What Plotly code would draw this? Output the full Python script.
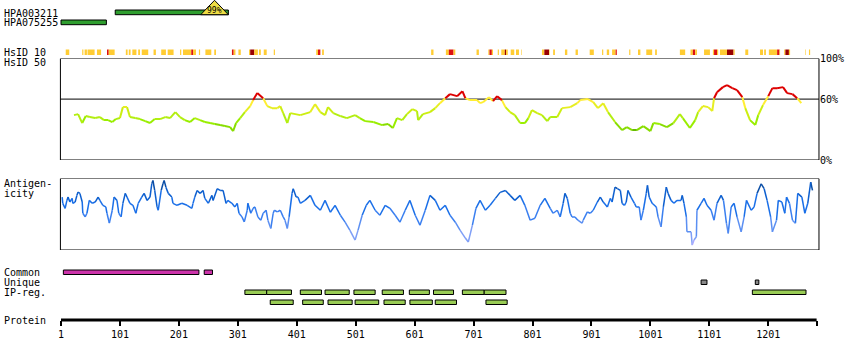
import plotly.graph_objects as go

# ---------------- data ----------------
PROTEIN_LENGTH = 1283

ANTIBODY_NAMES = ["HPA003211", "HPA075255"]
ANTIBODY_START = [93, 1]
ANTIBODY_END = [285, 78]
ANTIBODY_IDENTITY = ["99%", ""]

# HsID 10 segments: start, end, level (1 = gold, 2 = red, 3 = dark red)
HSID_START = [9, 37, 41, 46, 62, 79, 82, 111, 116, 122, 132, 138, 158, 171, 182, 203, 208, 222, 225,
              235, 246, 261, 291, 294, 302, 320, 322, 329, 337, 345, 362, 434, 437, 444, 629, 654,
              659, 667, 706, 726, 728, 732, 742, 748, 754, 756, 764, 773, 782, 817, 821, 829, 836,
              856, 874, 898, 919, 927, 936, 942, 965, 980, 994, 1009, 1051, 1069, 1073, 1077, 1092,
              1107, 1109, 1114, 1119, 1131, 1142, 1162, 1187, 1194, 1202, 1216, 1220, 1228, 1230,
              1236, 1264, 1270]
HSID_END = [15, 39, 45, 58, 69, 82, 92, 114, 119, 129, 135, 149, 162, 179, 192, 205, 222, 225, 230,
            237, 256, 264, 294, 297, 306, 322, 329, 335, 340, 350, 364, 437, 441, 447, 633, 659,
            667, 670, 710, 728, 732, 734, 744, 754, 756, 759, 770, 778, 783, 821, 829, 830, 839,
            860, 878, 905, 921, 931, 942, 944, 967, 984, 1004, 1012, 1060, 1073, 1077, 1080, 1102,
            1109, 1114, 1116, 1131, 1142, 1144, 1167, 1192, 1197, 1216, 1220, 1221, 1230, 1236,
            1238, 1265, 1272]
HSID_LEVEL = [1, 1, 1, 1, 1, 2, 1, 1, 1, 1, 1, 1, 1, 1, 1, 1, 1, 2, 1,
              1, 1, 1, 2, 1, 1, 1, 3, 1, 1, 1, 1, 1, 2, 1, 1, 1,
              2, 1, 1, 1, 2, 1, 1, 1, 3, 1, 1, 1, 1, 1, 3, 1, 1,
              1, 1, 1, 1, 1, 1, 2, 1, 1, 1, 1, 1, 1, 2, 1, 1,
              1, 2, 1, 1, 3, 1, 1, 1, 1, 1, 2, 1, 1, 3,
              1, 1, 1]

# HsID 50 similarity profile (%)
SIM_RES = [23, 30, 37, 43, 50, 59, 67, 74, 81, 88, 94, 101, 106, 113, 118, 127, 135, 144, 152, 160,
           169, 178, 186, 195, 203, 211, 220, 228, 237, 245, 254, 262, 271, 279, 288, 293, 298, 305,
           313, 322, 327, 334, 344, 351, 359, 368, 373, 378, 385, 390, 407, 424, 432, 441, 449, 454,
           463, 475, 486, 500, 508, 517, 531, 546, 556, 564, 571, 580, 588, 597, 605, 607, 615, 627,
           636, 644, 653, 661, 673, 682, 687, 695, 707, 712, 717, 727, 734, 741, 749, 755, 763, 771,
           780, 788, 794, 800, 809, 817, 826, 831, 843, 851, 865, 877, 882, 895, 904, 912, 921, 929,
           941, 953, 961, 970, 978, 989, 1001, 1006, 1017, 1029, 1040, 1051, 1056, 1068, 1077, 1082,
           1090, 1099, 1106, 1109, 1114, 1124, 1131, 1140, 1148, 1157, 1162, 1170, 1179, 1184, 1192,
           1201, 1208, 1216, 1226, 1233, 1242, 1250, 1257]
SIM_VAL = [44.2, 45.2, 36.4, 43.3, 42.3, 41.3, 42.3, 39.3, 39.3, 37.4, 40.3, 41.3, 52.1, 52.1, 42.3,
           41.3, 40.3, 38.3, 36.4, 40.3, 40.3, 42.3, 41.3, 47.2, 42.3, 39.3, 37.4, 41.3, 39.3, 37.4,
           36.4, 35.4, 34.4, 33.4, 32.4, 28.5, 36.4, 41.3, 47.2, 53.1, 59.0, 65.9, 60.9, 53.1, 51.1,
           51.1, 53.1, 46.2, 36.4, 46.2, 44.2, 47.2, 55.0, 47.2, 44.2, 52.1, 46.2, 43.3, 41.3, 44.2,
           41.3, 38.3, 37.4, 34.4, 35.4, 31.5, 41.3, 39.3, 45.2, 50.1, 48.2, 39.3, 45.2, 47.2, 51.1,
           56.0, 60.9, 64.9, 62.9, 67.8, 60.9, 59.0, 59.0, 56.0, 57.0, 61.9, 58.0, 62.9, 59.0, 52.1,
           47.2, 44.2, 36.4, 36.4, 41.3, 49.2, 46.2, 44.2, 38.3, 42.3, 42.3, 51.1, 52.1, 56.0, 59.0,
           60.0, 57.0, 51.1, 56.0, 47.2, 37.4, 29.5, 32.4, 29.5, 29.5, 33.4, 28.5, 36.4, 35.4, 32.4,
           36.4, 45.2, 41.3, 31.5, 39.3, 47.2, 53.1, 52.1, 48.2, 60.9, 66.8, 71.8, 73.7, 70.8, 68.8,
           61.9, 51.1, 39.3, 34.4, 44.2, 54.1, 62.9, 70.8, 70.8, 71.8, 65.9, 64.9, 60.9, 56.0]
SIM_TICK_LABELS = ["100%", "60%", "0%"]
SIM_TICK_VALUES = [100, 60, 0]

# Antigenicity profile (relative units, 0-100)
ANTIGEN_RES = [3, 4, 8, 11, 13, 16, 20, 21, 25, 28, 30, 33, 37, 38, 42, 45, 49, 54, 59, 64, 67, 72,
               77, 79, 83, 88, 91, 96, 99, 103, 106, 110, 113, 118, 123, 128, 132, 138, 142, 147,
               152, 155, 157, 160, 164, 166, 171, 174, 176, 179, 183, 189, 191, 198, 206, 215, 223,
               225, 228, 232, 237, 242, 245, 251, 257, 259, 266, 271, 276, 281, 284, 291, 296, 300,
               303, 308, 312, 317, 318, 323, 327, 330, 335, 340, 344, 349, 352, 357, 361, 363, 368,
               373, 378, 381, 385, 388, 393, 395, 400, 403, 407, 415, 424, 432, 441, 449, 458, 466,
               475, 483, 491, 500, 505, 512, 519, 525, 534, 542, 551, 559, 568, 576, 585, 593, 602,
               610, 619, 627, 636, 644, 653, 661, 670, 678, 687, 692, 699, 705, 712, 721, 729, 738,
               746, 755, 763, 771, 780, 788, 797, 805, 814, 822, 831, 836, 843, 848, 853, 856, 860,
               865, 868, 873, 878, 885, 887, 894, 899, 904, 911, 916, 921, 928, 933, 936, 941, 945,
               950, 953, 957, 960, 963, 968, 974, 977, 982, 985, 989, 994, 996, 999, 1004, 1011,
               1014, 1019, 1023, 1028, 1031, 1036, 1041, 1046, 1053, 1055, 1058, 1062, 1063, 1070,
               1072, 1075, 1079, 1080, 1087, 1092, 1097, 1104, 1109, 1114, 1121, 1125, 1130, 1133,
               1138, 1143, 1148, 1155, 1160, 1164, 1172, 1177, 1182, 1189, 1194, 1199, 1205, 1208,
               1215, 1218, 1224, 1229, 1232, 1237, 1242, 1247, 1251, 1258, 1263, 1268, 1273, 1276]
ANTIGEN_VAL = [74.0, 65.3, 58.3, 69.4, 74.0, 67.1, 72.2, 65.3, 67.1, 76.4, 81.0, 79.2, 67.1, 51.4,
               46.3, 51.4, 69.4, 65.3, 67.1, 74.0, 69.4, 62.5, 60.2, 51.4, 37.5, 55.6, 74.0, 69.4,
               51.4, 46.3, 65.3, 79.2, 74.0, 65.3, 62.5, 51.4, 65.3, 74.0, 79.2, 69.4, 74.0, 92.6,
               97.2, 83.3, 60.2, 55.6, 83.3, 92.6, 97.2, 87.9, 79.2, 74.0, 65.3, 62.5, 65.3, 62.5,
               58.3, 65.3, 74.0, 83.3, 79.2, 83.3, 72.2, 65.3, 76.4, 69.4, 85.7, 83.3, 83.3, 65.3,
               69.4, 65.3, 60.2, 65.3, 51.4, 46.3, 39.3, 55.6, 65.3, 51.4, 58.3, 60.2, 46.3, 41.7,
               51.4, 55.6, 41.7, 30.1, 51.4, 55.6, 53.2, 55.6, 46.3, 41.7, 30.1, 46.3, 79.2, 85.7,
               74.0, 74.0, 65.3, 69.4, 76.4, 62.5, 55.6, 69.4, 52.8, 62.5, 48.6, 38.9, 27.8, 13.9,
               27.8, 48.6, 62.5, 69.4, 55.6, 48.6, 62.5, 58.3, 48.6, 38.9, 55.6, 69.4, 48.6, 34.7,
               55.6, 76.4, 69.4, 55.6, 62.5, 48.6, 38.9, 27.8, 16.7, 11.1, 34.7, 58.3, 69.4, 55.6,
               62.5, 72.2, 80.6, 83.3, 76.4, 69.4, 76.4, 62.5, 41.7, 44.4, 62.5, 72.2, 58.3, 51.4,
               55.6, 46.3, 65.3, 79.2, 72.2, 51.4, 46.3, 46.3, 41.7, 37.5, 41.7, 53.2, 51.4, 55.6,
               67.1, 74.0, 67.1, 60.2, 72.2, 67.1, 87.9, 85.7, 83.3, 65.3, 62.5, 67.1, 83.3, 74.0,
               65.3, 60.2, 60.2, 41.7, 55.6, 79.2, 90.3, 74.0, 65.3, 60.2, 46.3, 32.4, 60.2, 87.9,
               79.2, 69.4, 65.3, 69.4, 69.4, 76.4, 65.3, 46.3, 25.4, 25.4, 6.9, 13.9, 18.5, 55.6,
               65.3, 72.2, 62.5, 55.6, 41.7, 65.3, 76.4, 69.4, 37.5, 23.2, 60.2, 65.3, 46.3, 25.4,
               46.3, 69.4, 55.6, 60.2, 79.2, 92.6, 85.7, 69.4, 46.3, 25.4, 41.7, 69.4, 67.1, 51.4,
               74.0, 65.3, 41.7, 37.5, 79.2, 74.0, 51.4, 65.3, 94.9, 83.3]

COMMON_START = [5, 244]
COMMON_END = [235, 258]
UNIQUE_START = [1087, 1179]
UNIQUE_END = [1097, 1185]
IPREG1_START = [313, 350, 407, 449, 498, 546, 592, 633, 682, 719, 1174]
IPREG1_END = [350, 392, 443, 490, 534, 582, 626, 667, 719, 756, 1265]
IPREG2_START = [356, 411, 454, 500, 549, 593, 636, 722]
IPREG2_END = [395, 446, 495, 540, 585, 631, 672, 758]

TICK_VALUES = [1, 101, 201, 301, 401, 501, 601, 701, 801, 901, 1001, 1101, 1201]
TICK_LABELS = ["1", "101", "201", "301", "401", "501", "601", "701", "801", "901", "1001", "1101", "1201"]

TRACK_LABELS = ["HPA003211", "HPA075255", "HsID 10", "HsID 50", "Antigen-", "icity",
                "Common", "Unique", "IP-reg.", "Protein"]

# ---------------- layout constants (pixels) ----------------
W, H = 850, 360
PX_PER_RES = 0.5894
X_ORIGIN_PX = 61.0
X0 = 1 - X_ORIGIN_PX / PX_PER_RES
X1 = 1 + (W - X_ORIGIN_PX) / PX_PER_RES

SIM_TOP, SIM_BOT = 58.5, 160.0
ANT_TOP, ANT_BOT = 178.5, 250.0
AXIS_Y = 320.0
BOX_X0, BOX_X1 = 0, PROTEIN_LENGTH + 4

FONT = "DejaVu Sans Mono"

fig = go.Figure()
shapes = []
annotations = []


def ypaper(px):
    return 1 - px / H


# ------- antibodies -------
ab_rows = [(10, 14.7), (20, 24.7)]
for name, s, e, ident, (y0, y1) in zip(ANTIBODY_NAMES, ANTIBODY_START, ANTIBODY_END, ANTIBODY_IDENTITY, ab_rows):
    shapes.append(dict(type="rect", xref="x", yref="y", x0=s, x1=e, y0=y0, y1=y1,
                       fillcolor="#2f9e2f", line=dict(color="black", width=1)))
    if ident:
        tx0, tx1 = e - 47, e
        tm = (tx0 + tx1) / 2
        shapes.append(dict(type="path", xref="x", yref="y",
                           path=f"M {tx0},{y1} L {tm},0.3 L {tx1},{y1} Z",
                           fillcolor="#eedd44", line=dict(color="black", width=1)))
        annotations.append(dict(x=tm, y=10, xref="x", yref="y", text=ident, showarrow=False,
                                font=dict(family=FONT, size=8, color="black"),
                                xanchor="center", yanchor="middle"))

# ------- HsID 10 -------
hsid_colors = {1: "#ffcc33", 2: "#dd1111", 3: "#990000"}
for s, e, lv in zip(HSID_START, HSID_END, HSID_LEVEL):
    shapes.append(dict(type="rect", xref="x", yref="y", x0=s, x1=e, y0=49.5, y1=55,
                       fillcolor=hsid_colors[lv], line=dict(width=0)))


# ------- colored line helper -------
def add_colored_line(xs, ys, bins, yaxis, width):
    groups = [([], []) for _ in bins]
    for i in range(len(xs) - 1):
        v = (ys[i] + ys[i + 1]) / 2
        for k, (lo, hi, _) in enumerate(bins):
            if lo <= v < hi:
                gx, gy = groups[k]
                gx += [xs[i], xs[i + 1], None]
                gy += [ys[i], ys[i + 1], None]
                break
    for (gx, gy), (_, _, c) in zip(groups, bins):
        if gx:
            fig.add_trace(go.Scatter(x=gx, y=gy, mode="lines", xaxis="x", yaxis=yaxis,
                                     line=dict(color=c, width=width), hoverinfo="skip",
                                     showlegend=False, connectgaps=False))


SIM_BINS = [(0, 30, "#66bb00"), (30, 35, "#88dd00"), (35, 40, "#99ee00"), (40, 45, "#b3ee11"),
            (45, 50, "#ccee11"), (50, 55, "#e6ee22"), (55, 60, "#ffee33"), (60, 101, "#dd0000")]
ANT_BINS = [(85, 101, "#0b4ea6"), (70, 85, "#0d5fcf"), (55, 70, "#1a6fe8"), (40, 55, "#3a7ff0"),
            (25, 40, "#5b8ff2"), (12, 25, "#7f9ff6"), (0, 12, "#a9aaff")]

# similarity box
shapes.append(dict(type="rect", xref="x", yref="y2", x0=BOX_X0, x1=BOX_X1, y0=0, y1=100,
                   line=dict(color="black", width=1), fillcolor="rgba(0,0,0,0)"))
shapes.append(dict(type="line", xref="x", yref="y2", x0=BOX_X0, x1=BOX_X1, y0=60, y1=60,
                   line=dict(color="black", width=1), layer="below"))
add_colored_line(SIM_RES, SIM_VAL, SIM_BINS, "y2", 2)
for lab, v in zip(SIM_TICK_LABELS, SIM_TICK_VALUES):
    annotations.append(dict(x=818 / W, y=v, xref="paper", yref="y2", text=lab, showarrow=False,
                            font=dict(family=FONT, size=10, color="black"),
                            xanchor="left", yanchor="middle"))

# antigenicity box
shapes.append(dict(type="rect", xref="x", yref="y3", x0=BOX_X0, x1=BOX_X1, y0=0, y1=100,
                   line=dict(color="black", width=1), fillcolor="rgba(0,0,0,0)"))
add_colored_line(ANTIGEN_RES, ANTIGEN_VAL, ANT_BINS, "y3", 1.5)

# ------- common / unique / IP-reg -------
for s, e in zip(COMMON_START, COMMON_END):
    shapes.append(dict(type="rect", xref="x", yref="y", x0=s, x1=e, y0=270, y1=274.5,
                       fillcolor="#cc33aa", line=dict(color="black", width=1)))
for s, e in zip(UNIQUE_START, UNIQUE_END):
    shapes.append(dict(type="rect", xref="x", yref="y", x0=s, x1=e, y0=280, y1=284.5,
                       fillcolor="#888888", line=dict(color="black", width=1)))
for s, e in zip(IPREG1_START, IPREG1_END):
    shapes.append(dict(type="rect", xref="x", yref="y", x0=s, x1=e, y0=290, y1=294.5,
                       fillcolor="#99cc55", line=dict(color="black", width=1)))
for s, e in zip(IPREG2_START, IPREG2_END):
    shapes.append(dict(type="rect", xref="x", yref="y", x0=s, x1=e, y0=300, y1=304.5,
                       fillcolor="#99cc55", line=dict(color="black", width=1)))

# protein axis line
shapes.append(dict(type="line", xref="x", yref="y", x0=1, x1=PROTEIN_LENGTH, y0=AXIS_Y, y1=AXIS_Y,
                   line=dict(color="black", width=3)))

# ------- left labels -------
label_y = [13, 22.5, 52, 62.5, 183.5, 193, 272.5, 282.5, 292.5, 320.5]
for lab, y in zip(TRACK_LABELS, label_y):
    annotations.append(dict(x=2 / W, y=y, xref="paper", yref="y", text=lab, showarrow=False,
                            font=dict(family=FONT, size=10, color="black"),
                            xanchor="left", yanchor="middle"))

fig.add_trace(go.Scatter(x=[None], y=[None], xaxis="x", yaxis="y", showlegend=False))

fig.update_layout(
    width=W, height=H, margin=dict(l=0, r=0, t=0, b=0),
    paper_bgcolor="white", plot_bgcolor="white", showlegend=False,
    xaxis=dict(range=[X0, X1], domain=[0, 1], anchor="free", position=ypaper(AXIS_Y),
               showgrid=False, zeroline=False, showline=False,
               tickmode="array", tickvals=TICK_VALUES + [PROTEIN_LENGTH],
               ticktext=TICK_LABELS + [""], ticks="outside", ticklen=5, tickwidth=2,
               tickcolor="black", tickfont=dict(family=FONT, size=10, color="black")),
    yaxis=dict(range=[H, 0], domain=[0, 1], visible=False, fixedrange=True),
    yaxis2=dict(range=[0, 100], domain=[ypaper(SIM_BOT), ypaper(SIM_TOP)], anchor="x", visible=False),
    yaxis3=dict(range=[0, 100], domain=[ypaper(ANT_BOT), ypaper(ANT_TOP)], anchor="x", visible=False),
    shapes=shapes, annotations=annotations,
)

fig.write_html("out.html", config={"displayModeBar": False},
               post_script="document.body.style.margin='0';document.body.style.overflow='hidden';")
